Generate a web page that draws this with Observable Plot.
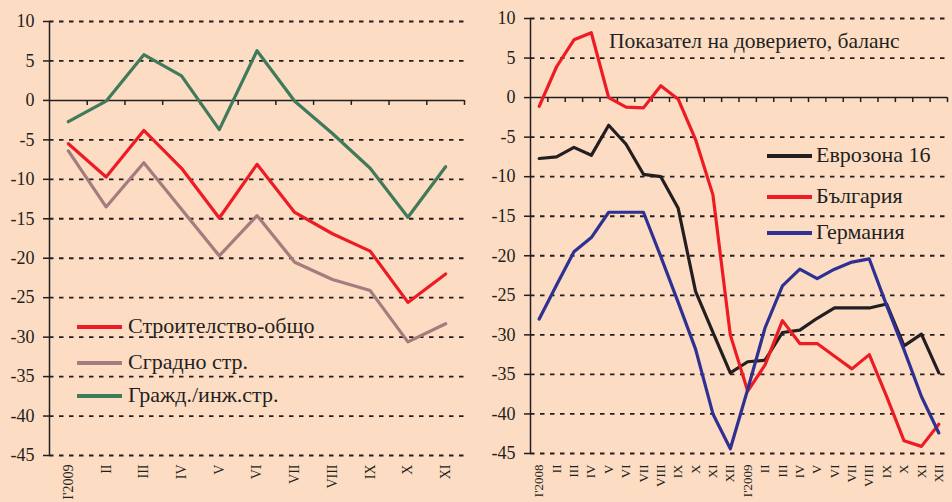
<!DOCTYPE html>
<html><head><meta charset="utf-8">
<script src="https://cdn.jsdelivr.net/npm/d3@7"></script>
<script src="https://cdn.jsdelivr.net/npm/@observablehq/plot@0.6"></script>
<style>
html,body{margin:0;padding:0;background:#fddcc4;}
#wrap{position:relative;width:952px;height:502px;overflow:hidden;font-family:"Liberation Serif","Times New Roman",serif;color:#231f20;}
.panel{position:absolute;top:0;}
.lline{position:absolute;height:3.5px;}
.ltext{position:absolute;font-size:22px;line-height:26px;white-space:nowrap;}
.title{position:absolute;font-size:21.5px;line-height:26px;white-space:nowrap;}
</style></head><body><div id="wrap"></div>
<script>
// ---- Left panel: construction confidence, 2009 ----
const monthsLeft = ["I'2009","II","III","IV","V","VI","VII","VIII","IX","X","XI"];
const construction = [-5.5, -9.7, -3.8, -8.6, -14.9, -8.1, -14.2, -16.9, -19.1, -25.6, -22.0];
const buildings    = [-6.4, -13.5, -7.9, -13.8, -19.7, -14.6, -20.5, -22.7, -24.1, -30.6, -28.3];
const civil        = [-2.7, -0.1, 5.8, 3.1, -3.7, 6.3, -0.1, -4.2, -8.6, -14.8, -8.4];
const leftNames  = ["Строителство-общо", "Сградно стр.", "Гражд./инж.стр."];
const leftColors = ["#ed1c24", "#a57b7d", "#3f7a5b"];

// ---- Right panel: confidence indicator, 2008-2009 ----
const monthsRight = ["I'2008","II","III","IV","V","VI","VII","VIII","IX","X","XI","XII",
                     "I'2009","II","III","IV","V","VI","VII","VIII","IX","X","XI","XII"];
const euroArea = [-7.7, -7.5, -6.3, -7.3, -3.5, -5.9, -9.7, -10.0, -14.0, -24.5, -29.7, -34.8,
                  -33.4, -33.2, -29.7, -29.4, -27.9, -26.6, -26.6, -26.6, -26.1, -31.4, -29.9, -34.8];
const bulgaria = [-1.1, 3.9, 7.3, 8.2, 0.0, -1.2, -1.3, 1.5, -0.2, -5.3, -12.3, -30.0,
                  -37.1, -33.8, -28.2, -31.1, -31.1, -32.7, -34.3, -32.5, -37.8, -43.4, -44.1, -41.3];
const germany  = [-28.0, -23.7, -19.5, -17.7, -14.5, -14.5, -14.5, -20.1, -25.9, -31.8, -40.0, -44.4,
                  -36.9, -29.1, -23.8, -21.7, -22.9, -21.7, -20.8, -20.4, -26.3, -31.9, -37.8, -42.4];
const rightNames  = ["Еврозона 16", "България", "Германия"];
const rightColors = ["#231f20", "#ed1c24", "#2e3192"];
const rightTitle = "Показател на доверието, баланс";

const yTicks = [10, 5, 0, -5, -10, -15, -20, -25, -30, -35, -40, -45];
const yDomain = [-45, 10];

const ink = "#231f20";

function panel({labels, series, colors, width, marginLeft, marginRight, marginTop, marginBottom, xFont, xPad}) {
  const n = labels.length;
  const idx = d3.range(n);
  const bounds = idx.map(i => i + 0.5);
  return Plot.plot({
    width, height: 502, marginLeft, marginRight, marginTop, marginBottom,
    x: {type: "linear", domain: [-0.5, n - 0.5]},
    y: {domain: yDomain},
    style: {fontFamily: "Liberation Serif, Times New Roman, serif", background: "transparent", color: ink, overflow: "visible"},
    marks: [
      Plot.ruleY(yTicks.filter(t => t !== 0), {stroke: ink, strokeWidth: 1.8, strokeDasharray: "4.5,5.5"}),
      Plot.ruleY([0], {stroke: ink, strokeWidth: 1.5}),
      Plot.ruleX(bounds, {y1: 0, y2: 0, insetBottom: -5, stroke: ink, strokeWidth: 1.5}),
      Plot.ruleX([-0.5], {stroke: ink, strokeWidth: 1.5}),
      Plot.axisY({ticks: yTicks, tickFormat: d => String(d), tickSize: 6, tickPadding: 9, fontSize: 18, strokeWidth: 1.5}),
      Plot.axisX({ticks: idx, tickFormat: i => labels[i], tickRotate: -90, tickSize: 0, tickPadding: xPad, fontSize: xFont}),
      ...series.map((s, k) => Plot.line(s, {x: (d, i) => i, y: d => d, stroke: colors[k], strokeWidth: 3.2}))
    ]
  });
}

const wrap = document.getElementById("wrap");

const left = panel({labels: monthsLeft, series: [construction, buildings, civil], colors: leftColors,
  width: 476, marginLeft: 49, marginRight: 12, marginTop: 21, marginBottom: 47, xFont: 14, xPad: 9});
left.classList.add("panel"); left.style.left = "0px";
wrap.appendChild(left);

const right = panel({labels: monthsRight, series: [euroArea, bulgaria, germany], colors: rightColors,
  width: 476, marginLeft: 54, marginRight: 5, marginTop: 18, marginBottom: 49, xFont: 13, xPad: 11});
right.classList.add("panel"); right.style.left = "476px";
wrap.appendChild(right);

function legend(names, colors, lineX, textX, ys) {
  names.forEach((name, k) => {
    const l = document.createElement("div");
    l.className = "lline";
    l.style.left = lineX + "px"; l.style.width = "45px";
    l.style.top = (ys[k] - 1.75) + "px"; l.style.background = colors[k];
    wrap.appendChild(l);
    const t = document.createElement("div");
    t.className = "ltext";
    t.style.left = textX + "px"; t.style.top = (ys[k] - 14) + "px";
    t.textContent = name;
    wrap.appendChild(t);
  });
}
legend(leftNames, leftColors, 77, 128, [327, 363, 396]);
legend(rightNames, rightColors, 767, 816, [156, 197, 233]);

const title = document.createElement("div");
title.className = "title";
title.style.left = "609px"; title.style.top = "28px";
title.textContent = rightTitle;
wrap.appendChild(title);
</script>
</body></html>
